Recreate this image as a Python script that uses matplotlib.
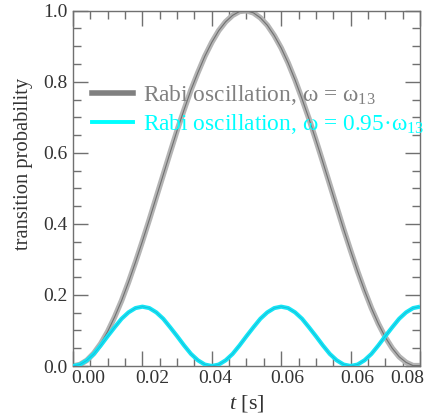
import matplotlib
matplotlib.use("Agg")
import matplotlib.pyplot as plt
import matplotlib.transforms as mtransforms
from matplotlib.lines import Line2D
from matplotlib.ticker import MultipleLocator, NullFormatter

plt.rcParams['font.family'] = ['Liberation Serif', 'DejaVu Serif']
plt.rcParams['mathtext.fontset'] = 'custom'
plt.rcParams['mathtext.rm'] = 'Liberation Serif'
plt.rcParams['mathtext.it'] = 'Liberation Serif:italic'

# time samples [s]
t = [0.0000, 0.0017, 0.0034, 0.0051, 0.0068, 0.0085, 0.0102, 0.0119, 0.0136, 0.0153,
     0.0170, 0.0187, 0.0204, 0.0221, 0.0238, 0.0255, 0.0272, 0.0289, 0.0306, 0.0323,
     0.0340, 0.0357, 0.0374, 0.0391, 0.0408, 0.0425, 0.0442, 0.0459, 0.0476, 0.0493,
     0.0510, 0.0527, 0.0544, 0.0561, 0.0578, 0.0595, 0.0612, 0.0629, 0.0646, 0.0663,
     0.0680, 0.0697, 0.0714, 0.0731, 0.0748, 0.0765, 0.0782, 0.0799, 0.0816, 0.0833,
     0.0850]

# resonant Rabi oscillation
p_res = [0.000, 0.004, 0.016, 0.036, 0.063, 0.097, 0.138, 0.184, 0.236, 0.292,
         0.351, 0.412, 0.475, 0.538, 0.601, 0.663, 0.721, 0.777, 0.826, 0.872,
         0.911, 0.944, 0.969, 0.987, 0.998, 1.000, 0.994, 0.980, 0.959, 0.930,
         0.895, 0.853, 0.805, 0.752, 0.696, 0.636, 0.574, 0.511, 0.448, 0.385,
         0.325, 0.267, 0.213, 0.163, 0.119, 0.081, 0.050, 0.026, 0.010, 0.001,
         0.001]

# detuned Rabi oscillation
p_det = [0.000, 0.004, 0.016, 0.034, 0.058, 0.084, 0.109, 0.133, 0.151, 0.163,
         0.167, 0.163, 0.151, 0.133, 0.109, 0.084, 0.058, 0.034, 0.016, 0.004,
         0.000, 0.004, 0.016, 0.034, 0.058, 0.084, 0.109, 0.133, 0.151, 0.163,
         0.167, 0.163, 0.151, 0.133, 0.109, 0.084, 0.058, 0.034, 0.016, 0.004,
         0.000, 0.004, 0.016, 0.034, 0.058, 0.084, 0.109, 0.133, 0.151, 0.163,
         0.167]

legend_labels = [r"Rabi oscillation, ω = ω$_{13}$",
                 r"Rabi oscillation, ω = 0.95·ω$_{13}$"]

xtick_texts = ["0.00", "0.02", "0.04", "0.06", "0.06", "0.08"]
xtick_text_pos = [0.0037, 0.0194, 0.0348, 0.0524, 0.0696, 0.0818]

fig = plt.figure(figsize=(4.25, 4.15), dpi=100)
ax = fig.add_axes([73/425, 1-366/415, 347/425, (366-10.7)/415])

ax.plot(t, p_res, color='#b4b4b4', lw=4.0, solid_capstyle='butt', zorder=2)
ax.plot(t, p_res, color='#707070', lw=0.8, zorder=3)
ax.plot(t, p_det, color='#14e4f4', lw=3.0, solid_capstyle='butt', zorder=4)
ax.plot(t, p_det, color='#1aa0c8', lw=0.5, alpha=0.7, zorder=5)

ax.set_xlim(0, 0.085)
ax.set_ylim(0, 1.0)

ax.xaxis.set_major_locator(MultipleLocator(0.017))
ax.xaxis.set_minor_locator(MultipleLocator(0.00425))
ax.xaxis.set_major_formatter(NullFormatter())
ax.yaxis.set_major_locator(MultipleLocator(0.2))
ax.yaxis.set_minor_locator(MultipleLocator(0.05))
ax.yaxis.set_major_formatter(lambda v, p: f"{v:.1f}")

spine_col = '#707070'
for s in ax.spines.values():
    s.set_color(spine_col)
    s.set_linewidth(1.0)
ax.tick_params(which='both', direction='in', top=True, right=True, color=spine_col)
ax.tick_params(which='major', length=11, width=1.0, labelsize=14, labelcolor='#333333', pad=4)
ax.tick_params(which='minor', length=5.5, width=1.0)

trans = mtransforms.blended_transform_factory(ax.transData, ax.transAxes)
for xp, txt in zip(xtick_text_pos, xtick_texts):
    ax.text(xp, -0.012, txt, transform=trans, ha='center', va='top',
            fontsize=14, color='#333333')

ax.text(0.5, -0.075, r"$t$ [s]", transform=ax.transAxes, ha='center', va='top',
        fontsize=16, color='#333333')
ax.text(-0.143, 0.570, "transition probability", transform=ax.transAxes,
        rotation=90, ha='center', va='center', fontsize=14.8, color='#333333')

handles = [Line2D([], [], color='#808080', lw=4),
           Line2D([], [], color='#00ffff', lw=2.8)]
leg = ax.legend(handles, legend_labels, loc='center left',
                bbox_to_anchor=(0.055, 0.722), frameon=False, fontsize=16.8,
                handlelength=1.75, handletextpad=0.42, labelspacing=0.22,
                borderpad=0, borderaxespad=0)
leg.get_texts()[0].set_color('#808080')
leg.get_texts()[1].set_color('#00ffff')

fig.savefig("out.png", dpi=100)
